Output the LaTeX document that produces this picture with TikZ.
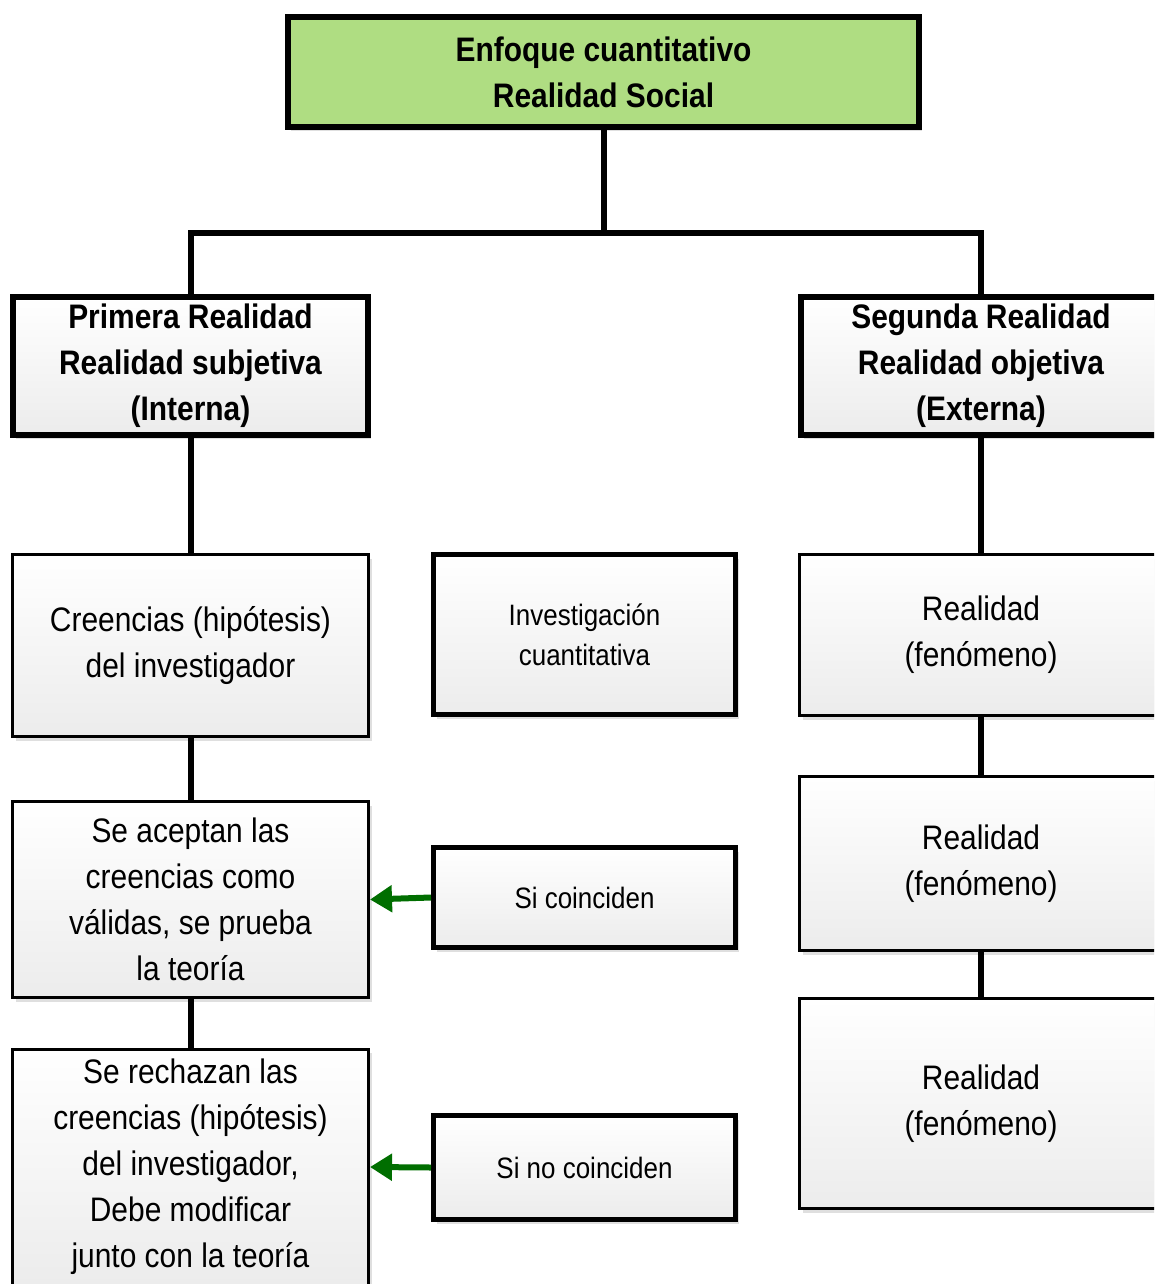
\documentclass[tikz,border=0pt]{standalone}
\usepackage{fontspec}
\setmainfont{Liberation Sans}[FakeStretch=0.88]
\usetikzlibrary{arrows.meta,shadows}
\definecolor{headgreen}{RGB}{175,221,130}
\definecolor{arrowgreen}{RGB}{0,110,0}
\definecolor{boxgray}{RGB}{236,236,236}
\tikzset{
  softshadow/.style={
    drop shadow={shadow xshift=3pt, shadow yshift=-4pt, fill=black!25, opacity=0.5}
  },
  mainbox/.style={
    rectangle,
    draw=black,
    line width=6pt,
    fill=headgreen,
    align=center,
    inner sep=0pt,
    font=\fontsize{34}{46}\selectfont\bfseries,
    softshadow
  },
  realbox/.style={
    rectangle,
    draw=black,
    line width=6pt,
    top color=white,
    bottom color=boxgray,
    align=center,
    inner sep=0pt,
    font=\fontsize{34}{46}\selectfont\bfseries,
    softshadow
  },
  stepbox/.style={
    rectangle,
    draw=black,
    line width=3pt,
    top color=white,
    bottom color=boxgray,
    align=center,
    inner sep=0pt,
    font=\fontsize{34}{46}\selectfont,
    softshadow
  },
  midbox/.style={
    rectangle,
    draw=black,
    line width=5pt,
    top color=white,
    bottom color=boxgray,
    align=center,
    inner sep=0pt,
    font=\fontsize{29.5}{40}\selectfont,
    softshadow
  },
  tree/.style={
    draw=black,
    line width=6pt
  },
  greenarrow/.style={
    -{Triangle[length=22pt,width=26pt]},
    line width=6pt,
    draw=arrowgreen
  }
}

\begin{document}
\begin{tikzpicture}[x=1pt, y=-1pt]
\useasboundingbox (0,0) rectangle (1154,1284);
\begin{scope}
\clip (0,0) rectangle (1154,1284);
% header
\node[mainbox, minimum width=631pt, minimum height=110pt] (top) at (603.5,72) {Enfoque cuantitativo\\Realidad Social};
\node[realbox, minimum width=355pt, minimum height=138pt] (prim) at (190.5,366) {Primera Realidad\\Realidad subjetiva\\(Interna)};
\node[realbox, minimum width=360pt, minimum height=138pt] (seg) at (981,366) {Segunda Realidad\\Realidad objetiva\\(Externa)};

% left column
\node[stepbox, minimum width=356pt, minimum height=182pt] (cre) at (190.5,645.5) {Creencias (hipótesis)\\del investigador};
\node[stepbox, minimum width=356pt, minimum height=196pt] (acep) at (190.5,899.5) {Se aceptan las\\creencias como\\válidas, se prueba\\la teoría};
\node[stepbox, minimum width=356pt, minimum height=236pt] (rech) at (190.5,1167) {Se rechazan las\\creencias (hipótesis)\\del investigador,\\Debe modificar\\junto con la teoría};

% middle column
\node[midbox, minimum width=302pt, minimum height=160pt] (inv) at (584.5,634.5) {Investigación\\cuantitativa};
\node[midbox, minimum width=302pt, minimum height=100pt] (coin) at (584.5,897.5) {Si coinciden};
\node[midbox, minimum width=302pt, minimum height=104pt] (nocoin) at (584.5,1167.5) {Si no coinciden};

% right column
\node[stepbox, minimum width=363pt, minimum height=161pt] (fen1) at (981,635) {Realidad\\(fenómeno)};
\node[stepbox, minimum width=363pt, minimum height=174pt] (fen2) at (981,863.5) {Realidad\\(fenómeno)};
\node[stepbox, minimum width=363pt, minimum height=210pt] (fen3) at (981,1103.5) {Realidad\\(fenómeno)};

\draw[tree] (top.south) -- ++(0,103) -| (prim.north);
\draw[tree] (top.south) -- ++(0,103) -| (seg.north);
\draw[tree] (prim) -- (cre);
\draw[tree] (cre) -- (acep);
\draw[tree] (acep) -- (rech);
\draw[tree] (seg) -- (fen1);
\draw[tree] (fen1) -- (fen2);
\draw[tree] (fen2) -- (fen3);

\draw[greenarrow] (coin.west) -- (acep.east);
\draw[greenarrow] (nocoin.west) -- (rech.east);
\end{scope}
\end{tikzpicture}
\end{document}
